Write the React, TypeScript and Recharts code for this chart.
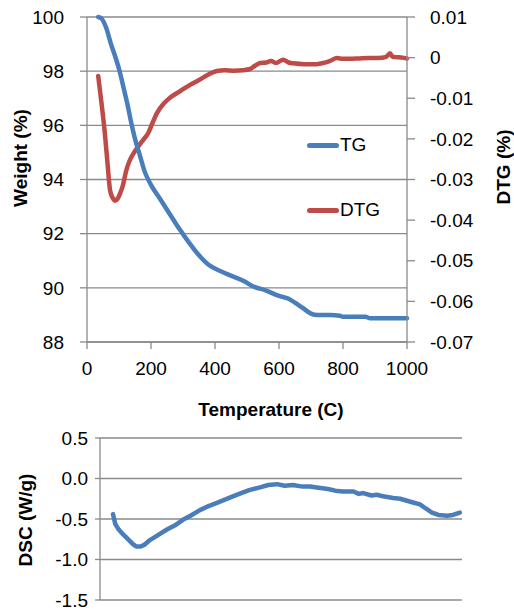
import { ComposedChart, LineChart, Line, XAxis, YAxis, CartesianGrid } from 'recharts'

// TG (weight %) vs temperature
const tgTemp = [35, 45, 60, 75, 88, 103, 115, 125, 140, 150, 165, 180, 200, 230, 260, 290, 320, 350, 380, 420, 450, 490, 520, 560, 600, 630, 650, 675, 700, 720, 760, 790, 800, 870, 885, 1000]
const tgWeight = [100, 99.95, 99.6, 99.0, 98.55, 97.95, 97.35, 96.85, 96.0, 95.5, 94.9, 94.3, 93.8, 93.25, 92.7, 92.15, 91.65, 91.2, 90.85, 90.6, 90.45, 90.25, 90.05, 89.9, 89.7, 89.6, 89.45, 89.25, 89.05, 89.0, 89.0, 88.97, 88.93, 88.93, 88.88, 88.88]

// DTG (%) vs temperature
const dtgTemp = [35, 45, 55, 63, 72, 80, 87, 95, 103, 112, 122, 134, 146, 159, 175, 191, 205, 219, 240, 259, 290, 322, 350, 378, 406, 430, 460, 488, 510, 525, 541, 560, 575, 590, 613, 630, 645, 680, 718, 740, 760, 781, 800, 822, 850, 880, 910, 935, 947, 955, 969, 985, 1000]
const dtgValue = [-0.0045, -0.011, -0.018, -0.025, -0.0326, -0.0345, -0.0352, -0.0348, -0.0335, -0.0315, -0.028, -0.0252, -0.0235, -0.022, -0.0203, -0.0186, -0.016, -0.0136, -0.0113, -0.0099, -0.0083, -0.0067, -0.0055, -0.0042, -0.0033, -0.0031, -0.0032, -0.0031, -0.0028, -0.002, -0.0013, -0.0012, -0.0008, -0.0013, -0.0005, -0.0012, -0.0014, -0.0016, -0.0016, -0.0013, -0.0008, -0.0001, -0.0003, -0.0003, -0.0002, -0.0001, -0.0001, 0.0002, 0.0011, 0.0002, 0.0001, 0.0, -0.0002]

// DSC (W/g) vs temperature
const dscTemp = [36, 39, 42, 50, 64, 80, 91, 100, 112, 122, 138, 160, 185, 210, 229, 250, 276, 300, 323, 345, 367, 390, 414, 442, 465, 489, 510, 533, 560, 580, 599, 630, 650, 671, 700, 715, 727, 750, 765, 782, 810, 829, 860, 884, 900, 917, 935, 959, 975, 994]
const dscValue = [-0.44, -0.5, -0.56, -0.62, -0.69, -0.76, -0.81, -0.84, -0.84, -0.82, -0.76, -0.7, -0.63, -0.57, -0.51, -0.46, -0.39, -0.34, -0.3, -0.26, -0.22, -0.18, -0.14, -0.11, -0.08, -0.07, -0.09, -0.08, -0.1, -0.1, -0.11, -0.13, -0.15, -0.16, -0.16, -0.19, -0.18, -0.21, -0.2, -0.22, -0.24, -0.25, -0.29, -0.32, -0.37, -0.42, -0.45, -0.46, -0.45, -0.42]

const tempTicks = [0, 200, 400, 600, 800, 1000]
const weightTicks = [88, 90, 92, 94, 96, 98, 100]
const dtgTicks = [-0.07, -0.06, -0.05, -0.04, -0.03, -0.02, -0.01, 0, 0.01]
const dscTicks = [-1.5, -1.0, -0.5, 0, 0.5]

const tgData = tgTemp.map((t, i) => ({ t, v: tgWeight[i] }))
const dtgData = dtgTemp.map((t, i) => ({ t, v: dtgValue[i] }))
const dscData = dscTemp.map((t, i) => ({ t, v: dscValue[i] }))

const BLUE = '#4A7EBB'
const RED = '#BE4B48'
const GRID = '#8a8a8a'
const FONT = '"Liberation Sans", Arial, sans-serif'
const tick = { fill: '#000', fontSize: 19, fontFamily: FONT }

const title = (text: string, x: number, y: number, rotate: boolean) => () => (
  <text
    x={x}
    y={y}
    transform={rotate ? `rotate(-90 ${x} ${y})` : undefined}
    textAnchor="middle"
    dominantBaseline="central"
    fontFamily={FONT}
    fontSize={19}
    fontWeight="bold"
    fill="#000"
  >
    {text}
  </text>
)

const legendItem = (label: string, color: string, top: number) => (
  <div style={{ position: 'absolute', left: 307, top, display: 'flex', alignItems: 'center', fontFamily: FONT, fontSize: 19 }}>
    <div style={{ width: 32, height: 5, borderRadius: 3, background: color }} />
    <span style={{ marginLeft: 1 }}>{label}</span>
  </div>
)

export default function App() {
  return (
    <div style={{ position: 'absolute', left: 0, top: 0, width: 514, height: 615, background: '#fff' }}>
      <div style={{ position: 'absolute', left: 0, top: 0 }}>
        <ComposedChart width={514} height={420} margin={{ top: 17, right: 0, bottom: 0, left: 0 }}>
          <CartesianGrid yAxisId="left" vertical={false} stroke={GRID} strokeWidth={1.3} />
          <XAxis
            dataKey="t"
            type="number"
            domain={[0, 1000]}
            ticks={tempTicks}
            height={78}
            tick={tick}
            tickSize={7}
            tickMargin={13}
            axisLine={{ stroke: GRID, strokeWidth: 1.3 }}
            tickLine={{ stroke: GRID, strokeWidth: 1.3 }}
            label={{ content: title('Temperature (C)', 271, 409, false) }}
          />
          <YAxis
            yAxisId="left"
            domain={[88, 100]}
            ticks={weightTicks}
            width={87}
            tick={tick}
            tickSize={7}
            tickMargin={16}
            axisLine={{ stroke: GRID, strokeWidth: 1.3 }}
            tickLine={{ stroke: GRID, strokeWidth: 1.3 }}
            label={{ content: title('Weight (%)', 20, 158, true) }}
          />
          <YAxis
            yAxisId="right"
            orientation="right"
            domain={[-0.07, 0.01]}
            ticks={dtgTicks}
            width={107}
            tick={tick}
            tickSize={8}
            tickMargin={15}
            tickFormatter={(v: number) => (Math.abs(v) < 1e-9 ? '0' : v.toFixed(2))}
            axisLine={{ stroke: GRID, strokeWidth: 1.3 }}
            tickLine={{ stroke: GRID, strokeWidth: 1.3 }}
            label={{ content: title('DTG (%)', 503, 167, true) }}
          />
          <Line data={dtgData} dataKey="v" yAxisId="right" type="monotone" stroke={RED} strokeWidth={4.5} strokeLinejoin="round" strokeLinecap="round" dot={false} isAnimationActive={false} />
          <Line data={tgData} dataKey="v" yAxisId="left" type="monotone" stroke={BLUE} strokeWidth={4.5} strokeLinejoin="round" strokeLinecap="round" dot={false} isAnimationActive={false} />
        </ComposedChart>
      </div>
      {legendItem('TG', BLUE, 134)}
      {legendItem('DTG', RED, 199)}
      <div style={{ position: 'absolute', left: 0, top: 420 }}>
        <LineChart width={514} height={195} margin={{ top: 18, right: 52, bottom: 15, left: 0 }}>
          <CartesianGrid vertical={false} stroke={GRID} strokeWidth={1.3} />
          <XAxis dataKey="t" type="number" domain={[0, 1000]} hide />
          <YAxis
            domain={[-1.5, 0.5]}
            ticks={dscTicks}
            width={100}
            tick={tick}
            tickSize={5}
            tickMargin={7}
            tickFormatter={(v: number) => v.toFixed(1)}
            axisLine={{ stroke: GRID, strokeWidth: 1.3 }}
            tickLine={{ stroke: GRID, strokeWidth: 1.3 }}
            label={{ content: title('DSC (W/g)', 25, 100, true) }}
          />
          <Line data={dscData} dataKey="v" type="linear" stroke={BLUE} strokeWidth={4.5} strokeLinejoin="round" strokeLinecap="round" dot={false} isAnimationActive={false} />
        </LineChart>
      </div>
    </div>
  )
}
